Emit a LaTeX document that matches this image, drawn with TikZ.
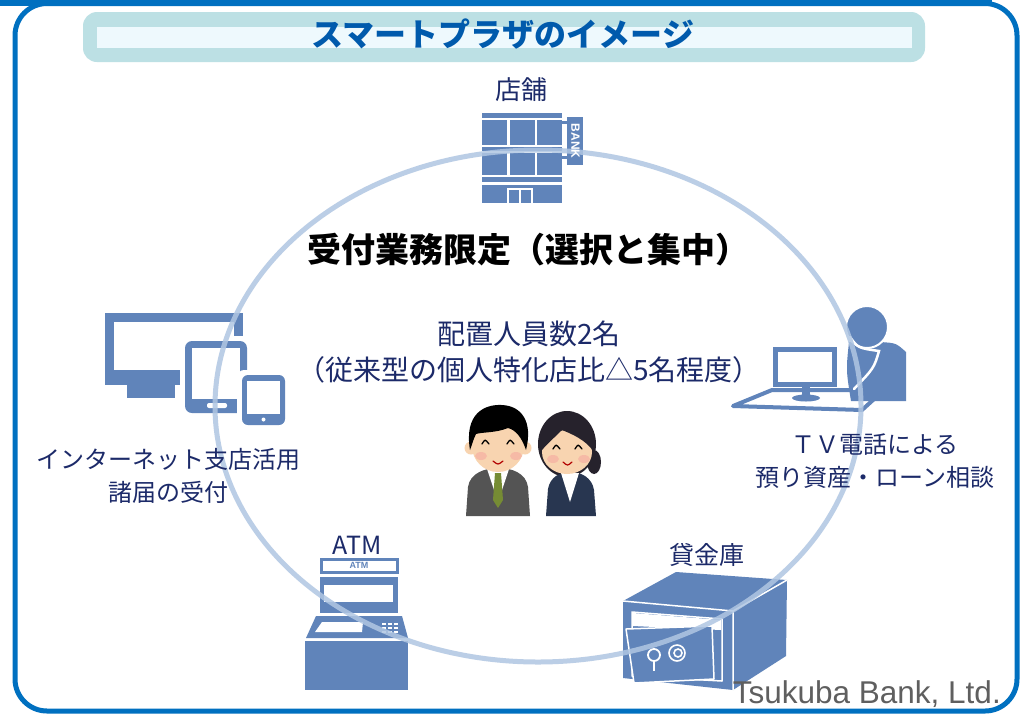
\documentclass[tikz,border=0pt]{standalone}
\usepackage{fontspec}
\setmainfont{Liberation Sans}
\newfontfamily\jp{Noto Sans CJK JP}
\usetikzlibrary{shapes.geometric}

\definecolor{frameblue}{RGB}{0,112,192}
\definecolor{bannerout}{RGB}{188,224,228}
\definecolor{bannerin}{RGB}{238,249,253}
\definecolor{titleblue}{RGB}{0,90,172}
\definecolor{navy}{RGB}{28,42,105}
\definecolor{iconblue}{RGB}{96,132,186}
\definecolor{ring}{RGB}{176,198,226}
\definecolor{graytext}{RGB}{95,95,95}
\definecolor{skin}{RGB}{248,212,176}
\definecolor{cheek}{RGB}{246,170,160}
\definecolor{suitgray}{RGB}{84,84,84}
\definecolor{suitnavy}{RGB}{40,54,80}
\definecolor{tiegreen}{RGB}{118,140,52}
\definecolor{hairdark}{RGB}{38,34,44}

\tikzset{
  lbl/.style={font=\jp\fontsize{24}{33}\selectfont, text=navy, align=center, inner sep=0},
  icon/.style={fill=iconblue},
  gap/.style={fill=white},
}

\begin{document}
\begin{tikzpicture}[x=1pt,y=-1pt]
\useasboundingbox (0,0) rectangle (1022,716);
\fill[white] (0,0) rectangle (1022,716);

% outer frame
\fill[frameblue] (0,0) rectangle (992,6);
\draw[frameblue, line width=5, rounded corners=32] (15,3.5) rectangle (1017,711);

% title banner
\fill[bannerout, rounded corners=14] (83,12) rectangle (925,62);
\fill[bannerin] (97,27) rectangle (912,48);
\node[font=\jp\bfseries\fontsize{32}{32}\selectfont, text=titleblue, inner sep=0] (title) at (503,34) {スマートプラザのイメージ};

% ---------- bank building ----------
\fill[icon] (482,113) rectangle (562,118);
\foreach \x in {482,510,537} {
  \fill[icon] (\x,120) rectangle ++(25,25);
  \fill[icon] (\x,153) rectangle ++(25,22);
}
\fill[icon] (482,147) rectangle (562,151);
\fill[icon] (482,177) rectangle (562,182);
\fill[icon] (482,185) rectangle (562,203);
\draw[white, line width=1.2] (508,203) -- (508,189) -- (532,189) -- (532,203) (520,189) -- (520,203);
% sign
\fill[icon] (562,121) rectangle (567,124);
\fill[icon] (562,156) rectangle (567,159);
\fill[icon] (567,117) rectangle (583,165);

% ---------- devices ----------
\draw[iconblue, line width=9] (109.5,317.5) rectangle (238.5,376);
\fill[icon] (105,370) rectangle (243,385);
\fill[icon] (127,383) rectangle (175,398);
% tablet
\fill[gap, rounded corners=8] (180,336) rectangle (252,418);
\fill[icon, rounded corners=7] (185,341) rectangle (247,413);
\fill[white] (192,348) rectangle (240,399);
\fill[white, rounded corners=2] (207,403) rectangle (227,408);
% phone
\fill[gap, rounded corners=7] (237,370) rectangle (290,430);
\fill[icon, rounded corners=6] (242,375) rectangle (285,425);
\fill[white] (247,381) rectangle (280,414);
\fill[white] (263.5,419.5) circle (2);

% ---------- TV phone ----------
\draw[iconblue, line width=4, line join=round] (733,406) -- (772,390) -- (884,390) -- (862,410) -- cycle;
\filldraw[fill=white, draw=iconblue, line width=5] (775,349) rectangle (834,384);
\fill[icon] (802,386) rectangle (810,396);
\fill[icon] (806,398) ellipse [x radius=14, y radius=3.5];
\fill[icon] (849,342) .. controls (846,370) .. (851,401) -- (906,401) -- (906,352) .. controls (896,343) .. (880,342) -- cycle;
\filldraw[fill=iconblue, draw=white, line width=2] (867,327) circle (21);
\draw[white, line width=2.5, line cap=round] (850,337) .. controls (858,348) .. (879,351) .. controls (874,368) .. (854,389);

% ---------- ATM ----------
\draw[iconblue, line width=3] (321,559) rectangle (397,572);
\node[font=\bfseries\fontsize{9}{9}\selectfont, text=iconblue, inner sep=0] (atmsign) at (359,565.5) {ATM};
\fill[icon] (320,577) rectangle (398,613);
\fill[white] (324,585) rectangle (393,602);
\fill[icon] (316,616) -- (402,616) -- (408,638) -- (306,638) -- cycle;
\fill[white] (322,622) -- (363,622) -- (362,632) -- (315,632) -- cycle;
\foreach \i in {0,1,2} \foreach \j in {0,1,2}
  \fill[white] (382+6*\i,622.5+4*\j) rectangle ++(4,2.6);
\fill[icon] (305,641) rectangle (408,690);

% ---------- safe ----------
\fill[icon] (623,601) -- (676,572) -- (787,580) -- (733,611) -- cycle;
\fill[icon] (733,611) -- (787,580) -- (786,656) -- (733,690) -- cycle;
\fill[icon] (623,601) -- (733,611) -- (733,690) -- (623,678) -- cycle;
\draw[white, line width=1.5, line join=round] (623,601) -- (733,611) -- (787,580) (733,611) -- (733,690);
\draw[white, line width=1.5, line join=round] (632,612) -- (722,619) -- (722,681) -- (632,676) -- cycle;
\fill[white] (633,613) -- (721,620) -- (721,630) -- (633,626) -- cycle;
\filldraw[fill=iconblue, draw=white, line width=1.5, line join=round] (626,629) -- (712,626) -- (714,679) -- (634,683) -- cycle;
\draw[white, line width=1.8] (654,655) circle (6);
\draw[white, line width=2] (654,660) -- (654,671);
\draw[white, line width=1.6] (677,653) circle (8) (678,653) circle (4);

% ---------- staff ----------
% man
\fill[suitgray] (466,516) -- (468,487) .. controls (470,473) and (485,468) .. (498,468) .. controls (512,468) and (526,473) .. (528,487) -- (530,516) -- cycle;
\fill[white] (487,469) -- (509,469) -- (498,502) -- cycle;
\fill[tiegreen] (495,473) -- (501,473) -- (503,500) -- (498,508) -- (493,500) -- cycle;
\fill[skin] (471,448) circle (6.5) (525,448) circle (6.5);
\fill[skin] (498,446) ellipse [x radius=26, y radius=26];
\fill[black] (470,450) .. controls (464,414) and (484,404) .. (502,405) .. controls (522,406) and (533,422) .. (526,450) .. controls (522,438) and (516,430) .. (508,428) .. controls (496,433) and (482,432) .. (476,434) .. controls (473,440) and (472,445) .. (470,450) -- cycle;
\fill[cheek, opacity=0.6] (481,456) ellipse [x radius=6, y radius=4] (516,456) ellipse [x radius=6, y radius=4];
\draw[black, line width=1.3, line cap=round] (482,444) .. controls (485,439) .. (489,444) (507,444) .. controls (510,439) .. (514,444);
\draw[red!70!black, line width=1.2, line cap=round] (493,461) .. controls (498,465) .. (503,461);
% woman
\fill[hairdark] (567,444) ellipse [x radius=29, y radius=33];
\fill[hairdark] (594,462) ellipse [x radius=7, y radius=12];
\fill[suitnavy] (546,516) -- (548,489) .. controls (550,477) and (560,472) .. (570,472) .. controls (582,472) and (592,478) .. (594,490) -- (596,516) -- cycle;
\fill[white] (561,473) -- (579,473) -- (570,502) -- cycle;
\fill[skin] (567,452) ellipse [x radius=25, y radius=22];
\fill[hairdark] (542,450) .. controls (541,426) and (554,416) .. (567,416) .. controls (582,416) and (595,428) .. (594,452) .. controls (586,440) and (572,434) .. (562,430) .. controls (555,437) and (548,443) .. (542,450) -- cycle;
\fill[cheek, opacity=0.6] (553,459) ellipse [x radius=6, y radius=4] (584,459) ellipse [x radius=6, y radius=4];
\draw[black, line width=1.3, line cap=round] (553,449) .. controls (556,444) .. (560,449) (575,449) .. controls (578,444) .. (582,449);
\draw[red!70!black, line width=1.2, line cap=round] (563,462) .. controls (567.5,466) .. (572,462);

% ---------- service ring ----------
\draw[ring, line width=5, opacity=0.85] (538,406) ellipse [x radius=323, y radius=256];

% sign lettering sits above the ring
\node[rotate=-90, font=\bfseries\fontsize{12}{12}\selectfont, text=white, inner sep=0] (banksign) at (575.5,141) {BANK};

% ---------- labels ----------
\node[lbl, font=\jp\fontsize{26}{26}\selectfont] (store) at (521,90) {店舗};
\node[font=\jp\bfseries\fontsize{34}{34}\selectfont, text=black, inner sep=0] (focus) at (528,250) {受付業務限定（選択と集中）};
\node[lbl, font=\jp\fontsize{28}{36}\selectfont] (staff) at (529,352) {配置人員数2名\\（従来型の個人特化店比△5名程度）};
\node[lbl] (net) at (168,476) {インターネット支店活用\\諸届の受付};
\node[lbl] (tv) at (875,461) {ＴＶ電話による\\預り資産・ローン相談};
\node[lbl, font=\jp\fontsize{25}{25}\selectfont] (atm) at (357,545) {ATM};
\node[lbl, font=\jp\fontsize{25}{25}\selectfont] (safe) at (707,555) {貸金庫};
\node[font=\fontsize{31.5}{31.5}\selectfont, text=graytext, anchor=base east, inner sep=0] (corp) at (1001,703) {Tsukuba Bank, Ltd.};
\end{tikzpicture}
\end{document}
